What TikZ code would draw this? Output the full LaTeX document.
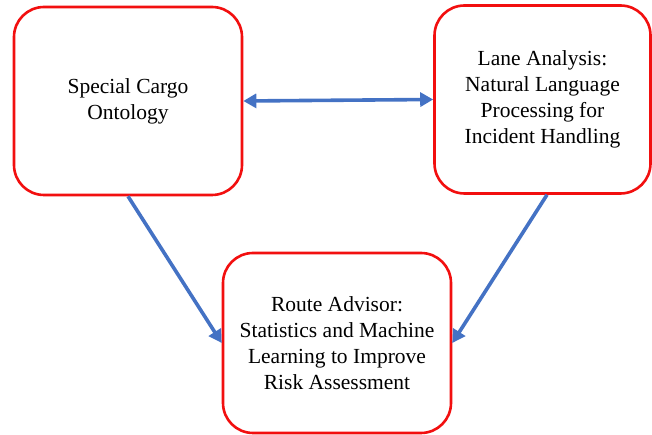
\documentclass[tikz,border=0pt]{standalone}
\usepackage{fontspec}
\setmainfont{Liberation Serif}
\usetikzlibrary{arrows.meta}
\definecolor{arrowblue}{HTML}{4472C4}
\definecolor{boxred}{HTML}{F20F0F}
\begin{document}
\begin{tikzpicture}[x=1pt,y=1pt,
  box/.style={draw=boxred, line width=2.6pt, rounded corners=30pt, fill=white,
    align=center, inner sep=0pt, font=\fontsize{21.5}{26}\selectfont},
  link/.style={draw=arrowblue, line width=3.6pt, -{Triangle[length=13pt,width=14pt]}},
  dlink/.style={draw=arrowblue, line width=3.6pt, {Triangle[length=13pt,width=14pt]}-{Triangle[length=13pt,width=14pt]}}]
\useasboundingbox (0,0) rectangle (652,435);
\node[box, minimum width=228pt, minimum height=188pt] (b1) at (128,{435-101}) {Special Cargo\\Ontology};
\node[box, minimum width=216pt, minimum height=188pt] (b2) at (542.5,{435-99.5}) {Lane Analysis:\\Natural Language\\Processing for\\Incident Handling};
\node[box, minimum width=228pt, minimum height=180pt] (b3) at (337,{435-343}) {Route Advisor:\\Statistics and Machine\\Learning to Improve\\Risk Assessment};
\draw[dlink] (b1.east) -- (b2.west);
\draw[link] (b1.south) -- (b3.west);
\draw[link] ([xshift=4.5pt]b2.south) -- (b3.east);
\end{tikzpicture}
\end{document}
